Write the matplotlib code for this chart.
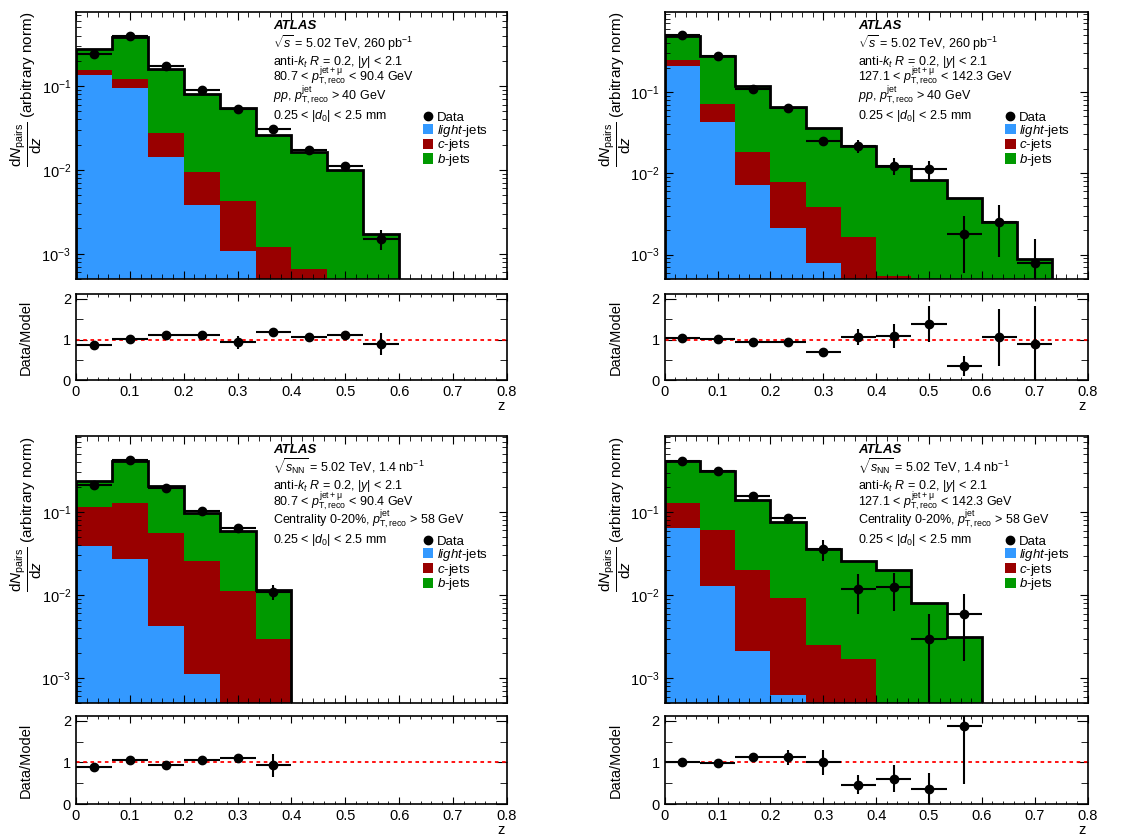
import numpy as np
import matplotlib
matplotlib.use("Agg")
import matplotlib.pyplot as plt
from matplotlib.patches import Patch
from matplotlib.lines import Line2D
from matplotlib.ticker import MultipleLocator, LogLocator, NullFormatter

plt.rcParams['font.family'] = ['Liberation Sans', 'DejaVu Sans']
plt.rcParams['mathtext.fontset'] = 'custom'
plt.rcParams['mathtext.rm'] = 'Liberation Sans'
plt.rcParams['mathtext.it'] = 'Liberation Sans:italic'
plt.rcParams['mathtext.bf'] = 'Liberation Sans:bold'

# bins in z
z_edges = np.linspace(0, 0.8, 13)

# pp, 80.7 < pT < 90.4 GeV
pp_lo_data = [0.238, 0.39, 0.173, 0.089, 0.0537, 0.0308, 0.0173, 0.011, 0.0015]
pp_lo_err = [0.004, 0.006, 0.004, 0.002, 0.003, 0.002, 0.0012, 0.001, 0.0004]
pp_lo_light = [0.134, 0.094, 0.0143, 0.0038, 0.00108, 0, 0, 0, 0]
pp_lo_charm = [0.021, 0.028, 0.0133, 0.0056, 0.00316, 0.00119, 0.00066, 0, 0]
pp_lo_bottom = [0.118, 0.258, 0.1304, 0.0706, 0.0498, 0.0249, 0.0155, 0.0099, 0.0017]
pp_lo_ratio = [0.857, 1.02, 1.11, 1.11, 0.93, 1.18, 1.07, 1.11, 0.89]
pp_lo_ratio_err = [0.02, 0.02, 0.03, 0.03, 0.16, 0.07, 0.07, 0.1, 0.28]

# pp, 127.1 < pT < 142.3 GeV
pp_hi_data = [0.50, 0.277, 0.110, 0.063, 0.025, 0.0217, 0.0124, 0.0113, 0.00179, 0.00252, 0.00078]
pp_hi_err = [0.01, 0.006, 0.004, 0.002, 0.002, 0.004, 0.003, 0.003, 0.0012, 0.0016, 0.00077]
pp_hi_light = [0.209, 0.0423, 0.0072, 0.0021, 0.00078, 0, 0, 0, 0, 0, 0]
pp_hi_charm = [0.038, 0.0282, 0.0111, 0.0058, 0.0031, 0.00162, 0.00055, 0, 0, 0, 0]
pp_hi_bottom = [0.246, 0.2065, 0.0997, 0.0569, 0.0318, 0.0201, 0.0116, 0.0083, 0.0050, 0.00252, 0.00088]
pp_hi_ratio = [1.045, 1.01, 0.93, 0.95, 0.70, 1.07, 1.09, 1.39, 0.35, 1.05, 0.89]
pp_hi_ratio_err = [0.03, 0.03, 0.04, 0.08, 0.04, 0.2, 0.3, 0.44, 0.24, 0.7, 0.93]

# PbPb 0-20%, 80.7 < pT < 90.4 GeV
pb_lo_data = [0.213, 0.417, 0.196, 0.101, 0.0637, 0.0109]
pb_lo_err = [0.005, 0.008, 0.005, 0.003, 0.003, 0.0022]
pb_lo_light = [0.0391, 0.0273, 0.0042, 0.00111, 0, 0]
pb_lo_charm = [0.0739, 0.0987, 0.0513, 0.0247, 0.0111, 0.00296]
pb_lo_bottom = [0.123, 0.283, 0.1495, 0.0715, 0.0469, 0.0086]
pb_lo_ratio = [0.886, 1.05, 0.935, 1.05, 1.10, 0.93]
pb_lo_ratio_err = [0.03, 0.03, 0.03, 0.05, 0.08, 0.28]

# PbPb 0-20%, 127.1 < pT < 142.3 GeV
pb_hi_data = [0.413, 0.313, 0.158, 0.084, 0.036, 0.0119, 0.0124, 0.0030, 0.0059]
pb_hi_err = [0.01, 0.01, 0.012, 0.012, 0.01, 0.006, 0.006, 0.0029, 0.0043]
pb_hi_light = [0.0643, 0.0127, 0.00215, 0.000625, 0, 0, 0, 0, 0]
pb_hi_charm = [0.0657, 0.0481, 0.0177, 0.0086, 0.00251, 0.00172, 0, 0, 0]
pb_hi_bottom = [0.283, 0.2552, 0.1212, 0.0658, 0.0338, 0.0237, 0.020, 0.0080, 0.00313]
pb_hi_ratio = [1.0, 0.975, 1.13, 1.12, 1.0, 0.46, 0.61, 0.37, 1.88]
pb_hi_ratio_err = [0.05, 0.04, 0.1, 0.17, 0.3, 0.23, 0.33, 0.37, 1.4]

c_light = '#3399ff'
c_charm = '#990000'
c_bottom = '#009900'

line_y = [0.931, 0.865, 0.803, 0.742, 0.674, 0.601]

panels = [
    dict(data=pp_lo_data, err=pp_lo_err, light=pp_lo_light, charm=pp_lo_charm,
         bottom=pp_lo_bottom, ratio=pp_lo_ratio, ratio_err=pp_lo_ratio_err,
         ymax=0.76, rect=(0.0663, 0.6675, 0.376, 0.318), rrect=(0.0663, 0.547, 0.376, 0.1025),
         lines=[r'$\sqrt{s}$ = 5.02 TeV, 260 pb$^{-1}$',
                r'anti-$k_{t}$ $R$ = 0.2, $|y|$ < 2.1',
                r'80.7 < $p_{\mathrm{T,reco}}^{\mathrm{jet+\mu}}$ < 90.4 GeV',
                r'$pp$, $p_{\mathrm{T,reco}}^{\mathrm{jet}}$ > 40 GeV',
                r'0.25 < $|d_{0}|$ < 2.5 mm']),
    dict(data=pp_hi_data, err=pp_hi_err, light=pp_hi_light, charm=pp_hi_charm,
         bottom=pp_hi_bottom, ratio=pp_hi_ratio, ratio_err=pp_hi_ratio_err,
         ymax=0.96, rect=(0.580, 0.6675, 0.369, 0.318), rrect=(0.580, 0.547, 0.369, 0.1025),
         lines=[r'$\sqrt{s}$ = 5.02 TeV, 260 pb$^{-1}$',
                r'anti-$k_{t}$ $R$ = 0.2, $|y|$ < 2.1',
                r'127.1 < $p_{\mathrm{T,reco}}^{\mathrm{jet+\mu}}$ < 142.3 GeV',
                r'$pp$, $p_{\mathrm{T,reco}}^{\mathrm{jet}}$ > 40 GeV',
                r'0.25 < $|d_{0}|$ < 2.5 mm']),
    dict(data=pb_lo_data, err=pb_lo_err, light=pb_lo_light, charm=pb_lo_charm,
         bottom=pb_lo_bottom, ratio=pb_lo_ratio, ratio_err=pb_lo_ratio_err,
         ymax=0.81, rect=(0.0663, 0.162, 0.376, 0.318), rrect=(0.0663, 0.0417, 0.376, 0.105),
         lines=[r'$\sqrt{s_{\mathrm{NN}}}$ = 5.02 TeV, 1.4 nb$^{-1}$',
                r'anti-$k_{t}$ $R$ = 0.2, $|y|$ < 2.1',
                r'80.7 < $p_{\mathrm{T,reco}}^{\mathrm{jet+\mu}}$ < 90.4 GeV',
                r'Centrality 0-20%, $p_{\mathrm{T,reco}}^{\mathrm{jet}}$ > 58 GeV',
                r'0.25 < $|d_{0}|$ < 2.5 mm']),
    dict(data=pb_hi_data, err=pb_hi_err, light=pb_hi_light, charm=pb_hi_charm,
         bottom=pb_hi_bottom, ratio=pb_hi_ratio, ratio_err=pb_hi_ratio_err,
         ymax=0.82, rect=(0.580, 0.162, 0.369, 0.318), rrect=(0.580, 0.0417, 0.369, 0.105),
         lines=[r'$\sqrt{s_{\mathrm{NN}}}$ = 5.02 TeV, 1.4 nb$^{-1}$',
                r'anti-$k_{t}$ $R$ = 0.2, $|y|$ < 2.1',
                r'127.1 < $p_{\mathrm{T,reco}}^{\mathrm{jet+\mu}}$ < 142.3 GeV',
                r'Centrality 0-20%, $p_{\mathrm{T,reco}}^{\mathrm{jet}}$ > 58 GeV',
                r'0.25 < $|d_{0}|$ < 2.5 mm']),
]

fig = plt.figure(figsize=(11.46, 8.39), dpi=100)

for p in panels:
    n = len(p['data'])
    edges = z_edges[:n + 1]
    centers = 0.5 * (edges[:-1] + edges[1:])
    halfw = 0.5 * (edges[1] - edges[0])
    light = np.array(p['light'])
    lc = light + np.array(p['charm'])
    total = lc + np.array(p['bottom'])

    ax = fig.add_axes(p['rect'])
    ax.set_yscale('log')
    ax.stairs(total, edges, baseline=1e-6, fill=True, color=c_bottom)
    ax.stairs(lc, edges, baseline=1e-6, fill=True, color=c_charm)
    ax.stairs(light, edges, baseline=1e-6, fill=True, color=c_light)
    ax.stairs(total, edges, baseline=1e-6, color='k', lw=2)
    ax.errorbar(centers, p['data'], xerr=halfw, yerr=p['err'], fmt='o', color='k',
                ms=6, elinewidth=1.5, capsize=0)
    ax.set_xlim(0, 0.8)
    ax.set_ylim(5e-4, p['ymax'])
    ax.xaxis.set_major_locator(MultipleLocator(0.1))
    ax.xaxis.set_minor_locator(MultipleLocator(0.02))
    ax.yaxis.set_minor_locator(LogLocator(subs=np.arange(2, 10)))
    ax.yaxis.set_minor_formatter(NullFormatter())
    ax.tick_params(which='both', direction='in', top=True, right=True, labelbottom=False,
                   labelsize=10.5)
    ax.tick_params(which='major', length=6)
    ax.tick_params(which='minor', length=3.5)
    for s in ax.spines.values():
        s.set_linewidth(1.2)
    ax.set_ylabel(r'$\dfrac{\mathrm{d}N_{\mathrm{pairs}}}{\mathrm{d}z}$ (arbitrary norm)',
                  loc='top', fontsize=11)
    ax.yaxis.set_label_coords(-0.075, 1.0)

    ax.text(0.457, 0.948, 'ATLAS', transform=ax.transAxes, fontsize=9.5,
            fontweight='bold', style='italic', va='center')
    for ty, t in zip(line_y[1:], p['lines']):
        ax.text(0.457, ty, t, transform=ax.transAxes, fontsize=9, va='baseline')

    handles = [Line2D([], [], marker='o', color='k', ls='none', ms=6),
               Patch(facecolor=c_light), Patch(facecolor=c_charm), Patch(facecolor=c_bottom)]
    labels = ['Data', r'$light$-jets', r'$c$-jets', r'$b$-jets']
    ax.legend(handles, labels, loc='upper left', bbox_to_anchor=(0.805, 0.628),
              frameon=False, fontsize=9.5, handlelength=0.8, handleheight=0.8,
              handletextpad=0.25, labelspacing=-0.1, borderpad=0, borderaxespad=0)

    rax = fig.add_axes(p['rrect'])
    rax.axhline(1, color='red', ls=(0, (2, 2)), lw=1.3)
    rax.errorbar(centers, p['ratio'], xerr=halfw, yerr=p['ratio_err'], fmt='o', color='k',
                 ms=6, elinewidth=1.5, capsize=0)
    rax.set_xlim(0, 0.8)
    rax.set_ylim(0, 2.12)
    rax.xaxis.set_major_locator(MultipleLocator(0.1))
    rax.xaxis.set_minor_locator(MultipleLocator(0.02))
    rax.yaxis.set_major_locator(MultipleLocator(1))
    rax.yaxis.set_minor_locator(MultipleLocator(0.5))
    rax.xaxis.set_major_formatter(plt.FuncFormatter(lambda v, pos: f'{v:g}'))
    rax.tick_params(which='both', direction='in', top=True, right=True, labelsize=10.5)
    rax.tick_params(axis='y', which='major', length=8)
    rax.tick_params(axis='y', which='minor', length=5)
    rax.tick_params(axis='x', which='major', length=5)
    rax.tick_params(axis='x', which='minor', length=2.5)
    for s in rax.spines.values():
        s.set_linewidth(1.2)
    rax.set_ylabel('Data/Model', fontsize=10.5)
    rax.yaxis.set_label_coords(-0.10, 0.5)
    rax.set_xlabel('z', loc='right', fontsize=10.5)
    rax.xaxis.set_label_coords(0.995, -0.22)

fig.savefig('out.png', dpi=100)
